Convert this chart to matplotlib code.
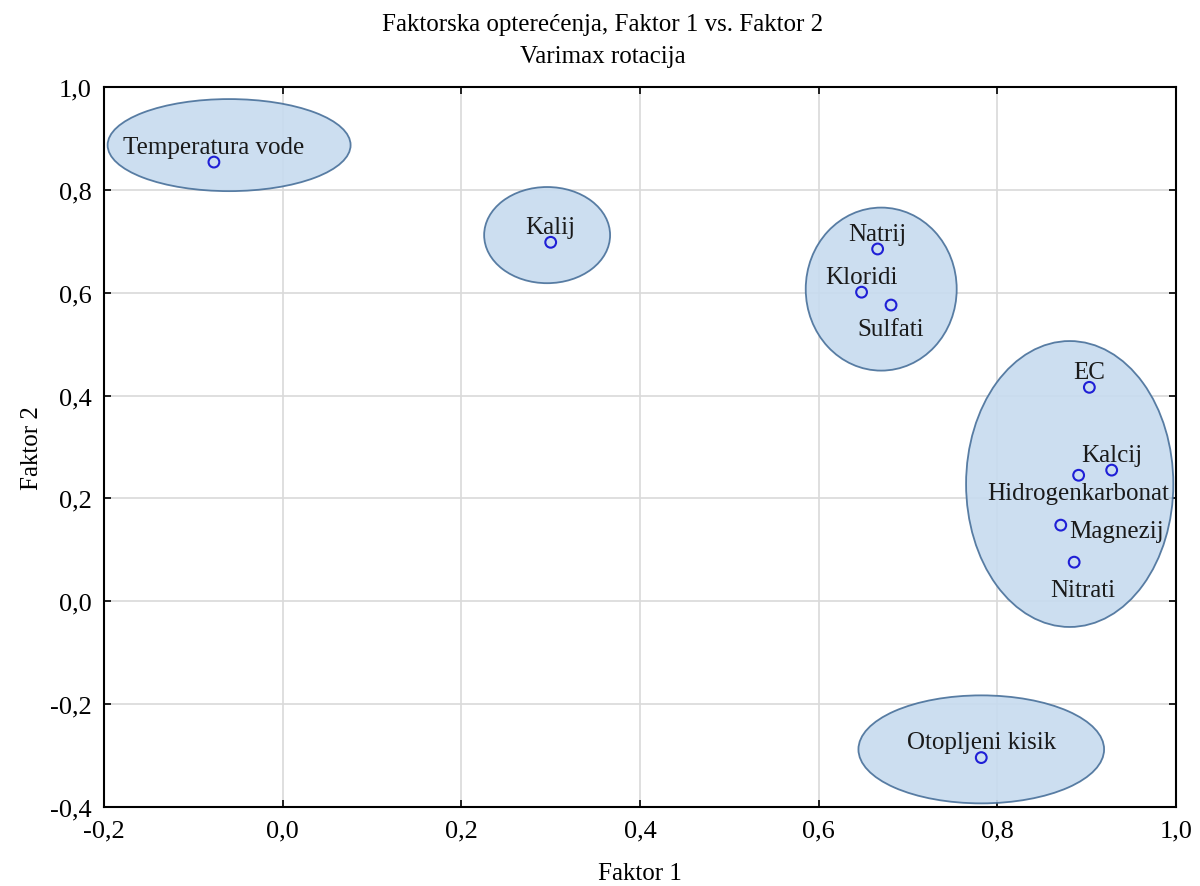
import numpy as np
import matplotlib.pyplot as plt
from matplotlib.patches import Ellipse

# faktorska opterecenja (Faktor 1, Faktor 2)
names = ['Temperatura vode', 'Kalij', 'Natrij', 'Kloridi', 'Sulfati', 'EC',
         'Kalcij', 'Hidrogenkarbonat', 'Magnezij', 'Nitrati', 'Otopljeni kisik']
f1 = [-0.077, 0.300, 0.666, 0.648, 0.681, 0.903, 0.928, 0.891, 0.871, 0.886, 0.782]
f2 = [0.854, 0.698, 0.685, 0.601, 0.576, 0.416, 0.255, 0.245, 0.148, 0.076, -0.304]

# grupe (ellipse: centar x, centar y, sirina, visina)
group_cx = [-0.060, 0.296, 0.670, 0.881, 0.782]
group_cy = [0.887, 0.712, 0.607, 0.228, -0.288]
group_w = [0.272, 0.141, 0.169, 0.232, 0.275]
group_h = [0.179, 0.187, 0.317, 0.556, 0.210]

x_ticks = [-0.2, 0.0, 0.2, 0.4, 0.6, 0.8, 1.0]
y_ticks = [-0.4, -0.2, 0.0, 0.2, 0.4, 0.6, 0.8, 1.0]

# pozicije natpisa (offset u tockama, poravnanje)
label_pos = {
    'Temperatura vode': ((0, 11), 'center'),
    'Kalij': ((0, 11), 'center'),
    'Natrij': ((0, 11), 'center'),
    'Kloridi': ((0, 11), 'center'),
    'Sulfati': ((0, -17), 'center'),
    'EC': ((0, 11), 'center'),
    'Kalcij': ((0, 11), 'center'),
    'Hidrogenkarbonat': ((0, -13), 'center'),
    'Magnezij': ((6, -4), 'left'),
    'Nitrati': ((6, -20), 'center'),
    'Otopljeni kisik': ((0, 11), 'center'),
}

plt.rcParams['font.family'] = ['Liberation Serif', 'DejaVu Serif']

fig = plt.figure(figsize=(12, 8.87), dpi=100)
ax = fig.add_axes([0.0867, 0.0891, 0.8933, 0.8117])

for cx, cy, w, h in zip(group_cx, group_cy, group_w, group_h):
    ax.add_patch(Ellipse((cx, cy), w, h, facecolor='#c7dbef', edgecolor='#48709a',
                         linewidth=1.3, alpha=0.9, zorder=2))

ax.scatter(f1, f2, s=60, facecolors='none', edgecolors='#1f1fd6', linewidths=1.5, zorder=4)

for n, x, y in zip(names, f1, f2):
    off, ha = label_pos[n]
    ax.annotate(n, (x, y), xytext=off, textcoords='offset points', ha=ha, va='center',
                fontsize=18, color='#1a1a1a', zorder=5)

ax.set_xlim(-0.2, 1.0)
ax.set_ylim(-0.4, 1.0)
ax.set_xticks(x_ticks)
ax.set_yticks(y_ticks)
ax.set_xticklabels([('%.1f' % t).replace('.', ',') for t in x_ticks], fontsize=19)
ax.set_yticklabels([('%.1f' % t).replace('.', ',') for t in y_ticks], fontsize=19)
ax.tick_params(direction='in', length=5, width=1.2, top=True, right=True, pad=9)
ax.grid(color='#d9d9d9', linewidth=1.2, zorder=0)
ax.set_axisbelow(True)
for s in ax.spines.values():
    s.set_linewidth(1.5)

ax.set_xlabel('Faktor 1', fontsize=18, labelpad=15)
ax.set_ylabel('Faktor 2', fontsize=18, labelpad=5)
fig.text(0.502, 0.972, 'Faktorska opterećenja, Faktor 1 vs. Faktor 2', fontsize=18,
         ha='center', va='center')
fig.text(0.502, 0.936, 'Varimax rotacija', fontsize=18, ha='center', va='center')

fig.savefig('out.png', dpi=100)
